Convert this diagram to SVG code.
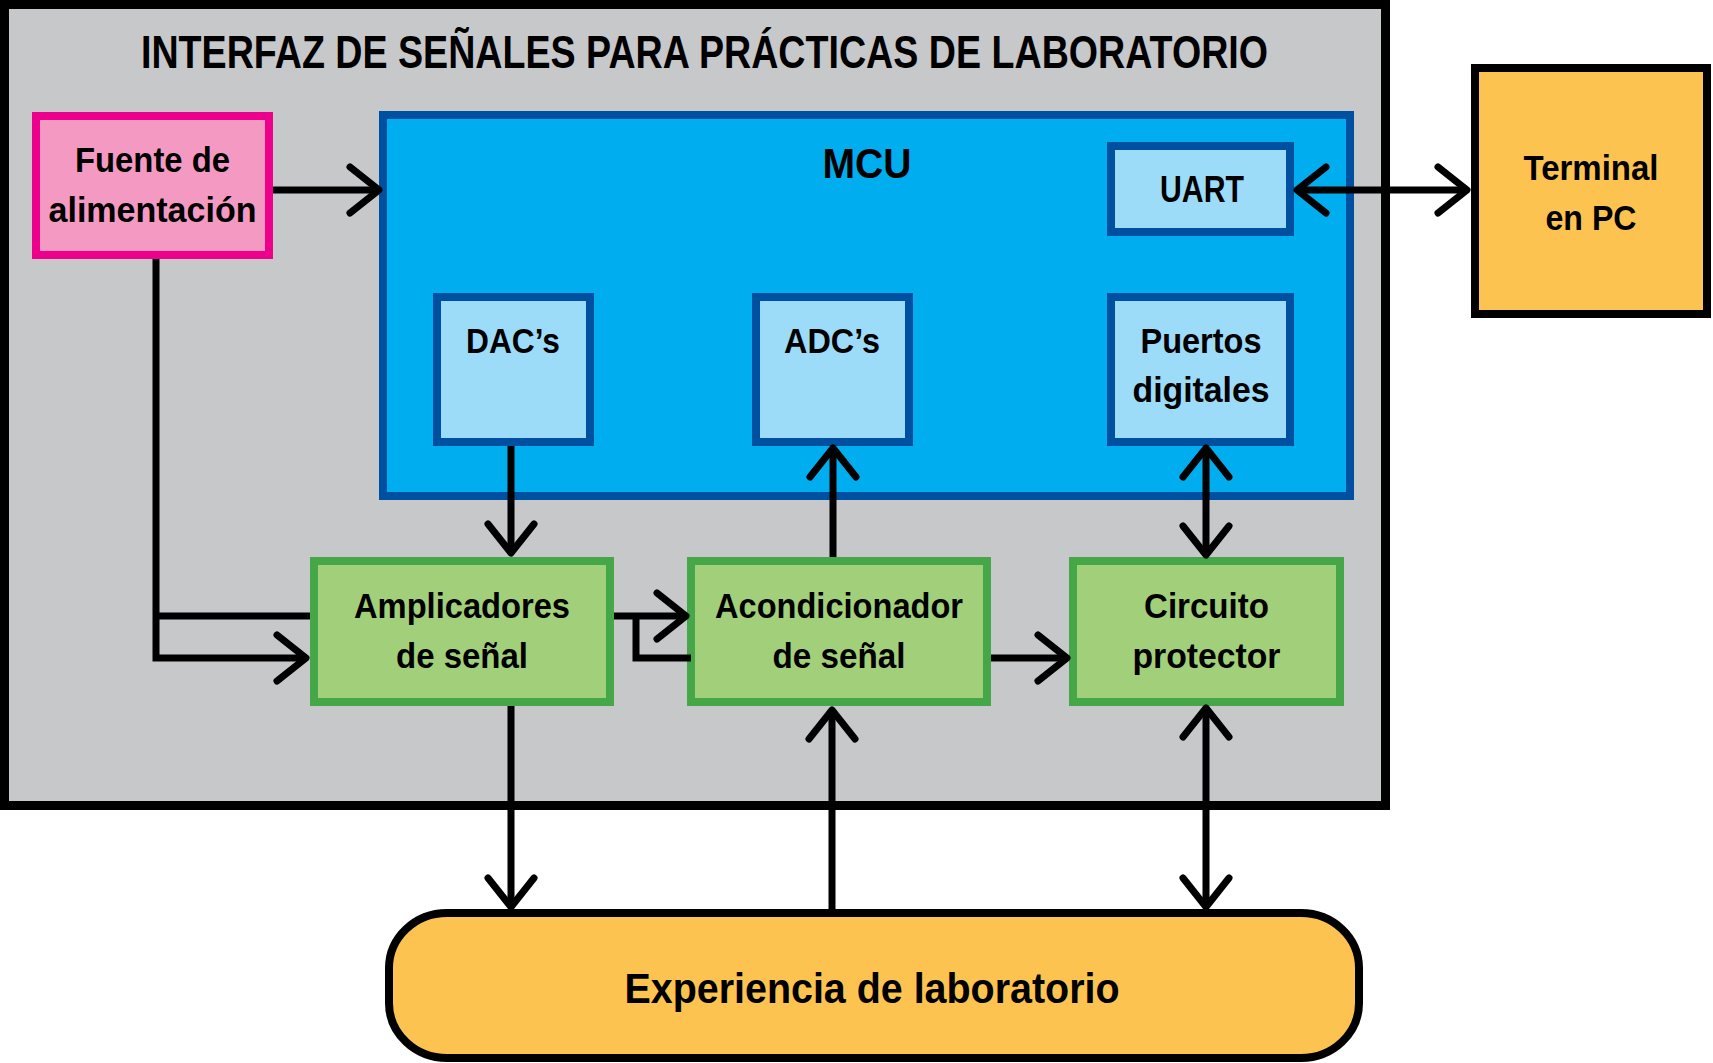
<svg xmlns="http://www.w3.org/2000/svg" width="1713" height="1063" viewBox="0 0 1713 1063">
<defs>
<style>
text{font-family:"Liberation Sans",Arial,sans-serif;font-weight:bold;fill:#000;text-anchor:middle}
.t{font-size:35px}
.blk{fill:#9DDCF9;stroke:#0050A2;stroke-width:8}
.grn{fill:#A2D07A;stroke:#46A748;stroke-width:8}
.c{fill:none;stroke:#000;stroke-width:7;stroke-linejoin:miter}
</style>
<marker id="ah" markerUnits="userSpaceOnUse" orient="auto-start-reverse" refX="0" refY="0" markerWidth="80" markerHeight="80" overflow="visible">
<path d="M-29,-23 L0,0 L-29,23" fill="none" stroke="#000" stroke-width="7" stroke-linecap="round" stroke-linejoin="round"/>
</marker>
</defs>
<rect width="1713" height="1063" fill="#fff"/>
<g id="interfaz">
<rect x="4.5" y="4.5" width="1381" height="801" fill="#C7C8CA" stroke="#000" stroke-width="9"/>
<text x="704.5" y="68" style="font-size:47px" textLength="1127" lengthAdjust="spacingAndGlyphs">INTERFAZ DE SEÑALES PARA PRÁCTICAS DE LABORATORIO</text>
</g>
<g id="fuente">
<rect x="36" y="116" width="233" height="139" fill="#F49AC2" stroke="#EC008C" stroke-width="8"/>
<text class="t" x="152.5" y="172" textLength="155" lengthAdjust="spacingAndGlyphs">Fuente de</text>
<text class="t" x="152.5" y="222" textLength="208" lengthAdjust="spacingAndGlyphs">alimentación</text>
</g>
<g id="mcu">
<rect x="383" y="115" width="967" height="381" fill="#00AEEF" stroke="#0050A2" stroke-width="8"/>
<text x="867" y="178" style="font-size:43px" textLength="89" lengthAdjust="spacingAndGlyphs">MCU</text>
</g>
<g id="uart">
<rect class="blk" x="1111" y="146" width="179" height="86"/>
<text x="1202" y="202" style="font-size:36px" textLength="84" lengthAdjust="spacingAndGlyphs">UART</text>
</g>
<g id="dac">
<rect class="blk" x="437" y="297" width="153" height="145"/>
<text class="t" x="513" y="353" textLength="94" lengthAdjust="spacingAndGlyphs">DAC’s</text>
</g>
<g id="adc">
<rect class="blk" x="756" y="297" width="153" height="145"/>
<text class="t" x="832" y="353" textLength="96" lengthAdjust="spacingAndGlyphs">ADC’s</text>
</g>
<g id="puertos">
<rect class="blk" x="1111" y="297" width="179" height="145"/>
<text class="t" x="1201" y="353" textLength="121" lengthAdjust="spacingAndGlyphs">Puertos</text>
<text class="t" x="1201" y="402" textLength="137" lengthAdjust="spacingAndGlyphs">digitales</text>
</g>
<g id="terminal">
<rect x="1475" y="68" width="232" height="246" fill="#FDC350" stroke="#000" stroke-width="8"/>
<text class="t" x="1591" y="180" textLength="135" lengthAdjust="spacingAndGlyphs">Terminal</text>
<text class="t" x="1591" y="230" textLength="91" lengthAdjust="spacingAndGlyphs">en PC</text>
</g>
<g id="amplicadores">
<rect class="grn" x="314" y="561" width="296" height="141"/>
<text class="t" x="462" y="618" textLength="216" lengthAdjust="spacingAndGlyphs">Amplicadores</text>
<text class="t" x="462" y="668" textLength="132" lengthAdjust="spacingAndGlyphs">de señal</text>
</g>
<g id="acondicionador">
<rect class="grn" x="691" y="561" width="296" height="141"/>
<text class="t" x="839" y="618" textLength="248" lengthAdjust="spacingAndGlyphs">Acondicionador</text>
<text class="t" x="839" y="668" textLength="133" lengthAdjust="spacingAndGlyphs">de señal</text>
</g>
<g id="circuito">
<rect class="grn" x="1073" y="561" width="267" height="141"/>
<text class="t" x="1206.5" y="618" textLength="125" lengthAdjust="spacingAndGlyphs">Circuito</text>
<text class="t" x="1206.5" y="668" textLength="148" lengthAdjust="spacingAndGlyphs">protector</text>
</g>
<g id="experiencia">
<rect x="389" y="913" width="970" height="145" rx="58" ry="55" fill="#FDC350" stroke="#000" stroke-width="8"/>
<text x="872" y="1003" style="font-size:43px" textLength="495" lengthAdjust="spacingAndGlyphs">Experiencia de laboratorio</text>
</g>
<g id="connectors">
<path class="c" d="M273,190 H379" marker-end="url(#ah)"/>
<path class="c" d="M1297,190 H1467" marker-start="url(#ah)" marker-end="url(#ah)"/>
<path class="c" d="M511,446 V553" marker-end="url(#ah)"/>
<path class="c" d="M833,557 V448" marker-end="url(#ah)"/>
<path class="c" d="M1206,448 V555" marker-start="url(#ah)" marker-end="url(#ah)"/>
<path class="c" d="M156,259 V658 H306" marker-end="url(#ah)"/>
<path class="c" d="M156,616 H310"/>
<path class="c" d="M614,616 H686" marker-end="url(#ah)"/>
<path class="c" d="M636,616 V658 H691"/>
<path class="c" d="M991,658 H1067" marker-end="url(#ah)"/>
<path class="c" d="M511,706 V907" marker-end="url(#ah)"/>
<path class="c" d="M832,913 V710" marker-end="url(#ah)"/>
<path class="c" d="M1206,708 V907" marker-start="url(#ah)" marker-end="url(#ah)"/>
</g>
</svg>
